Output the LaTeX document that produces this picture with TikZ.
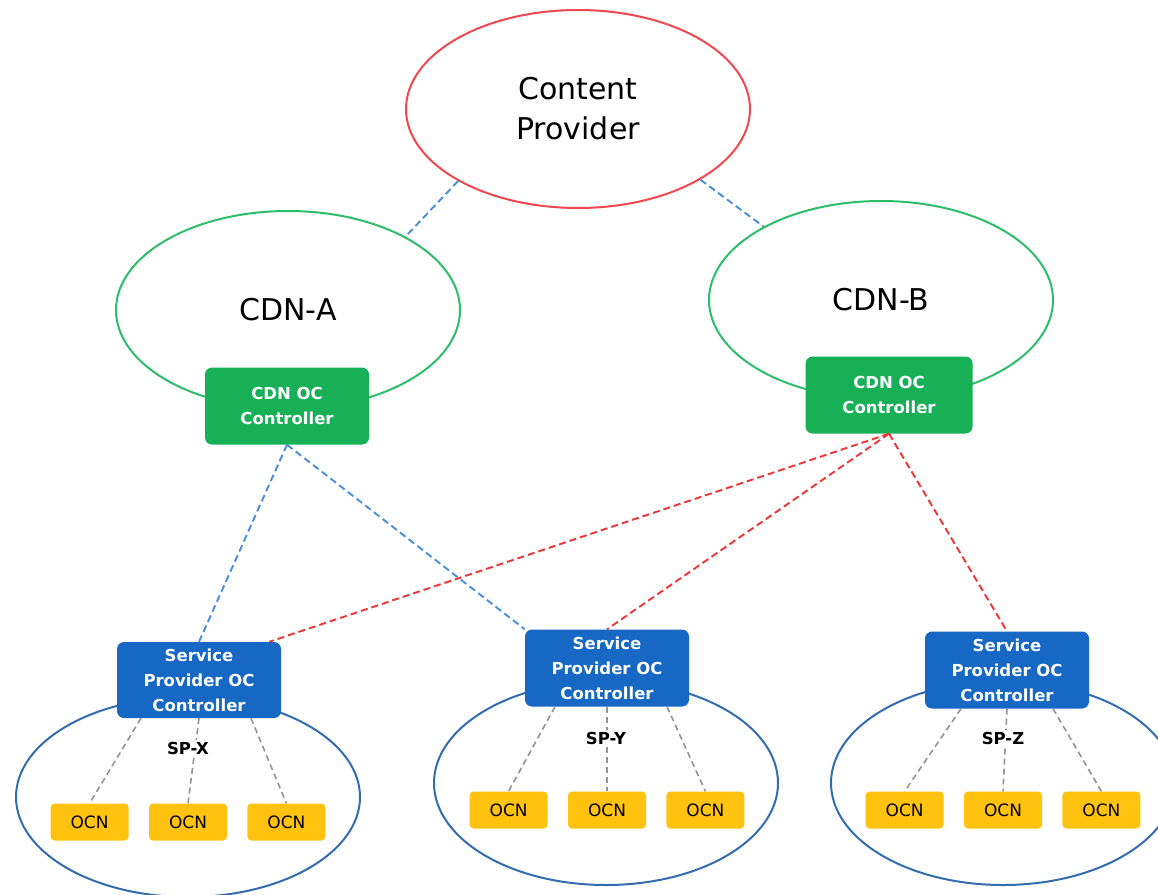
\documentclass[tikz,border=0pt]{standalone}
\usepackage{fontspec}
\setmainfont{DejaVu Sans}
\usetikzlibrary{positioning,shapes.geometric}
\definecolor{cpred}{RGB}{240,72,78}
\definecolor{cdngreen}{RGB}{44,190,104}
\definecolor{ctlgreen}{RGB}{24,176,86}
\definecolor{ctlblue}{RGB}{22,104,196}
\definecolor{spblue}{RGB}{52,108,176}
\definecolor{ocnyellow}{RGB}{255,194,14}
\definecolor{linkblue}{RGB}{72,142,216}
\definecolor{linkred}{RGB}{238,52,52}

\begin{document}
\begin{tikzpicture}[
  x=1pt, y=-1pt,
  cloud/.style={ellipse, line width=2pt, minimum width=344pt, minimum height=198pt, inner sep=0pt, align=center, font=\fontsize{30}{40}\selectfont},
  ctl/.style={rectangle, rounded corners=7pt, text=white, align=center, font=\fontsize{16.5}{25}\selectfont\bfseries, minimum width=164pt, minimum height=77pt, inner sep=2pt},
  ocn/.style={rectangle, rounded corners=4pt, fill=ocnyellow, font=\fontsize{17}{19}\selectfont, minimum width=78pt, minimum height=37pt, inner sep=0pt},
  splabel/.style={fill=white, inner sep=2pt, font=\fontsize{16.5}{19}\selectfont\bfseries},
  link/.style={line width=1.9pt, dash pattern=on 7pt off 4pt},
  sub/.style={line width=1.6pt, gray!85, dash pattern=on 6pt off 4pt}
]
\useasboundingbox (0,0) rectangle (1158,894);
\fill[white] (0,0) rectangle (1158,894);

% clouds
\node[cloud, draw=cpred] (cp) at (578,109) {Content\\Provider};
\node[cloud, draw=cdngreen] (cdna) at (288,310) {CDN-A};
\node[cloud, draw=cdngreen] (cdnb) at (881,300) {CDN-B};
\node[cloud, draw=spblue, minimum height=200pt] (spxc) at (188,797) {};
\node[cloud, draw=spblue, minimum height=204pt] (spyc) at (606,783) {};
\node[cloud, draw=spblue, minimum height=204pt] (spzc) at (1003,783) {};

% controllers
\node[ctl, fill=ctlgreen] (cdnctla) at (287,406) {CDN OC\\Controller};
\node[ctl, fill=ctlgreen, minimum width=167pt] (cdnctlb) at (889,395) {CDN OC\\Controller};
\node[ctl, fill=ctlblue, minimum height=76pt] (spx) at (199,680) {Service\\Provider OC\\Controller};
\node[ctl, fill=ctlblue] (spy) at (607,668) {Service\\Provider OC\\Controller};
\node[ctl, fill=ctlblue] (spz) at (1007,670) {Service\\Provider OC\\Controller};

% OCN boxes
\node[ocn] (x2) at (188,822) {OCN};
\node[ocn, left=20pt of x2] (x1) {OCN};
\node[ocn, right=20pt of x2] (x3) {OCN};
\node[ocn] (y2) at (607,810) {OCN};
\node[ocn, left=20pt of y2] (y1) {OCN};
\node[ocn, right=20pt of y2] (y3) {OCN};
\node[ocn] (z2) at (1003,810) {OCN};
\node[ocn, left=20pt of z2] (z1) {OCN};
\node[ocn, right=20pt of z2] (z3) {OCN};

% links
\draw[link, linkblue] (cp.211) -- (cdna.32);
\draw[link, linkblue] (cp.330) -- (cdnb.148);
\draw[link, linkblue] (cdnctla.south) -- (spx.north);
\draw[link, linkblue] (cdnctla.south) -- (spy.north west);
\draw[link, linkred] (cdnctlb.south) -- ([xshift=-12pt]spx.north east);
\draw[link, linkred] (cdnctlb.south) -- (spy.north);
\draw[link, linkred] (cdnctlb.south) -- (spz.north);

% controller to OCN
\draw[sub] ([xshift=-58pt]spx.south) -- (x1.north);
\draw[sub] (spx.south) -- (x2.north);
\draw[sub] ([xshift=52pt]spx.south) -- (x3.north);
\draw[sub] ([xshift=-52pt]spy.south) -- (y1.north);
\draw[sub] (spy.south) -- (y2.north);
\draw[sub] ([xshift=60pt]spy.south) -- (y3.north);
\draw[sub] ([xshift=-46pt]spz.south) -- (z1.north);
\draw[sub] (spz.south) -- (z2.north);
\draw[sub] ([xshift=46pt]spz.south) -- (z3.north);

% labels
\node[splabel] (spxlbl) at (188,748) {SP-X};
\node[splabel] (spylbl) at (606,738) {SP-Y};
\node[splabel] (spzlbl) at (1003,738) {SP-Z};
\end{tikzpicture}
\end{document}
